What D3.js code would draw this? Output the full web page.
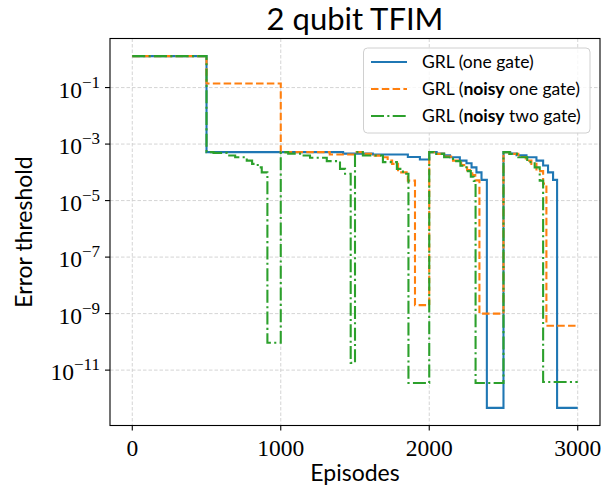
<!DOCTYPE html>
<html>
<head>
<meta charset="utf-8">
<script src="https://cdn.jsdelivr.net/npm/d3@7"></script>
<style>
  body { margin: 0; background: #fff; }
  svg { display: block; }
</style>
</head>
<body>
<script>
// Step data, [episode, error threshold]
var oneGate = [
  [0, 1.3], [500, 5.2e-4], [1420, 4.6e-4], [1620, 4.3e-4], [1856, 3.5e-4], [1937, 2.85e-4],
  [2000, 5.2e-4], [2050, 4.6e-4], [2100, 4.0e-4], [2140, 3.4e-4], [2206, 2.6e-4], [2251, 2.1e-4],
  [2285, 1.5e-4], [2318, 1.0e-4], [2352, 5.4e-5], [2388, 4.6e-13],
  [2500, 5.2e-4], [2545, 4.6e-4], [2588, 4.0e-4], [2655, 3.4e-4], [2722, 2.6e-4], [2767, 1.75e-4],
  [2800, 1.0e-4], [2834, 5.4e-5], [2861, 4.6e-13], [3000, 4.6e-13]
];
var noisyOneGate = [
  [0, 1.3], [500, 0.139], [1000, 5.2e-4], [1330, 4.3e-4],
  [1500, 5.2e-4], [1560, 4.5e-4], [1620, 3.9e-4], [1668, 3.4e-4], [1720, 2.6e-4], [1750, 2.0e-4],
  [1790, 1.0e-4], [1856, 5.1e-5], [1904, 2.0e-9],
  [2000, 5.2e-4], [2040, 4.5e-4], [2100, 3.6e-4], [2160, 2.6e-4], [2215, 1.8e-4], [2255, 1.2e-4],
  [2290, 8.0e-5], [2310, 5.2e-5], [2338, 1.0e-9],
  [2500, 5.2e-4], [2540, 4.5e-4], [2600, 3.5e-4], [2650, 2.6e-4], [2688, 2.0e-4], [2722, 1.1e-4],
  [2767, 4.0e-5], [2789, 3.7e-10], [3000, 3.7e-10]
];
var noisyTwoGate = [
  [0, 1.3], [500, 5.2e-4], [547, 4.9e-4], [637, 3.95e-4], [693, 3.4e-4], [771, 2.6e-4],
  [807, 2.0e-4], [845, 1.5e-4], [872, 1.0e-4], [910, 9.3e-11],
  [1000, 5.2e-4], [1050, 4.6e-4], [1130, 3.95e-4], [1197, 3.3e-4], [1310, 2.5e-4], [1399, 1.33e-4],
  [1433, 8.9e-5], [1471, 1.8e-11],
  [1500, 5.2e-4], [1553, 3.95e-4], [1688, 2.3e-4], [1782, 1.33e-4], [1823, 8.9e-5], [1860, 3.5e-12],
  [2000, 5.2e-4], [2030, 4.5e-4], [2100, 3.4e-4], [2160, 2.5e-4], [2210, 1.7e-4], [2250, 1.1e-4],
  [2280, 7.0e-5], [2300, 5.0e-5], [2312, 3.5e-12],
  [2500, 5.2e-4], [2540, 4.5e-4], [2600, 3.4e-4], [2660, 2.3e-4], [2710, 1.5e-4], [2744, 5.1e-5],
  [2767, 3.8e-12], [3000, 3.8e-12]
];

var seriesNames = ['one gate', 'noisy one gate', 'noisy two gate'];
var xTicks = [0, 1000, 2000, 3000];
var yTickExps = [-1, -3, -5, -7, -9, -11];

var scr = { w: 603, h: 489 };
var margins = { left: 110, right: 3, top: 38.5, bottom: 63.5 };

var svg = d3.select('body')
            .append('svg')
            .attr('width', scr.w)
            .attr('height', scr.h)
            .style('font-family', 'Lato, "Open Sans", sans-serif');

var allSeries = [oneGate, noisyOneGate, noisyTwoGate];
var xScale = d3.scaleLinear()
               .domain([-150, 3150])
               .range([margins.left, scr.w - margins.right]);

// log limits with a 5% pad in log space, like the default autoscale
var vals = d3.merge(allSeries).map(function(d){ return Math.log10(d[1]); });
var lo = d3.min(vals), hi = d3.max(vals), pad = (hi - lo) * 0.05;
var yScale = d3.scaleLog()
               .domain([Math.pow(10, lo - pad), Math.pow(10, hi + pad)])
               .range([scr.h - margins.bottom, margins.top]);

var x0 = margins.left, x1 = scr.w - margins.right;
var y0 = scr.h - margins.bottom, y1 = margins.top;

// grid
var grid = svg.append('g').attr('stroke', '#cfcfcf').attr('stroke-width', 0.9)
              .attr('stroke-dasharray', '3.5,2');
grid.selectAll('.gx').data(xTicks).enter().append('line')
    .attr('x1', function(d){ return xScale(d); }).attr('x2', function(d){ return xScale(d); })
    .attr('y1', y1).attr('y2', y0);
grid.selectAll('.gy').data(yTickExps).enter().append('line')
    .attr('y1', function(d){ return yScale(Math.pow(10, d)); }).attr('y2', function(d){ return yScale(Math.pow(10, d)); })
    .attr('x1', x0).attr('x2', x1);

// lines
var colors = ['#1f77b4', '#ff7f0e', '#2ca02c'];
var dashes = [null, '7.5,3.3', '13,3.3,2.1,3.3'];
var line = d3.line()
             .x(function(d){ return xScale(d[0]); })
             .y(function(d){ return yScale(d[1]); })
             .curve(d3.curveStepAfter);

svg.append('defs').append('clipPath').attr('id', 'clip')
   .append('rect').attr('x', x0).attr('y', y1).attr('width', x1 - x0).attr('height', y0 - y1);

svg.append('g').attr('clip-path', 'url(#clip)')
   .selectAll('path').data(allSeries).enter().append('path')
   .attr('d', line)
   .attr('fill', 'none')
   .attr('stroke', function(d, i){ return colors[i]; })
   .attr('stroke-width', 2.1)
   .attr('stroke-dasharray', function(d, i){ return dashes[i]; });

// frame
svg.append('rect').attr('x', x0).attr('y', y1).attr('width', x1 - x0).attr('height', y0 - y1)
   .attr('fill', 'none').attr('stroke', '#000').attr('stroke-width', 1.1);

// x axis
var xAxis = svg.append('g');
xAxis.selectAll('line').data(xTicks).enter().append('line')
     .attr('x1', function(d){ return xScale(d); }).attr('x2', function(d){ return xScale(d); })
     .attr('y1', y0).attr('y2', y0 + 5).attr('stroke', '#000').attr('stroke-width', 1.1);
xAxis.selectAll('text').data(xTicks).enter().append('text')
     .attr('x', function(d){ return xScale(d); })
     .attr('y', y0 + 30)
     .attr('text-anchor', 'middle')
     .style('font-family', '"Liberation Serif", serif')
     .style('font-size', '23.5px')
     .text(function(d){ return d; });

// y axis
var yAxis = svg.append('g');
yAxis.selectAll('line').data(yTickExps).enter().append('line')
     .attr('y1', function(d){ return yScale(Math.pow(10, d)); }).attr('y2', function(d){ return yScale(Math.pow(10, d)); })
     .attr('x1', x0 - 5).attr('x2', x0).attr('stroke', '#000').attr('stroke-width', 1.1);
var yLab = yAxis.selectAll('text').data(yTickExps).enter().append('text')
     .attr('x', 100)
     .attr('y', function(d){ return yScale(Math.pow(10, d)) + 10; })
     .attr('text-anchor', 'end')
     .style('font-family', '"Liberation Serif", serif')
     .style('font-size', '23.5px');
yLab.append('tspan').text('10');
yLab.append('tspan').attr('dy', -10).style('font-size', '17px')
    .text(function(d){ return '\u2212' + Math.abs(d); });

// labels
svg.append('text').attr('x', (x0 + x1) / 2).attr('y', 481)
   .attr('text-anchor', 'middle').style('font-size', '23px').text('Episodes');
svg.append('text').attr('transform', 'translate(32,' + ((y0 + y1) / 2) + ') rotate(-90)')
   .attr('text-anchor', 'middle').style('font-size', '23px').text('Error threshold');
svg.append('text').attr('x', (x0 + x1) / 2).attr('y', 29.5)
   .attr('text-anchor', 'middle').style('font-size', '31px').text('2 qubit TFIM');

// legend
var legend = svg.append('g');
legend.append('rect').attr('x', 363.5).attr('y', 48).attr('width', 226.5).attr('height', 85)
      .attr('rx', 4).attr('fill', '#fff').attr('fill-opacity', 0.8)
      .attr('stroke', '#d0d0d0').attr('stroke-width', 1);
var rows = legend.selectAll('.row').data(seriesNames).enter().append('g')
                 .attr('transform', function(d, i){ return 'translate(0,' + (62 + i * 27) + ')'; });
rows.append('line').attr('x1', 371).attr('x2', 407).attr('y1', 0).attr('y2', 0)
    .attr('stroke', function(d, i){ return colors[i]; })
    .attr('stroke-width', 2.1)
    .attr('stroke-dasharray', function(d, i){ return dashes[i]; });
var lt = rows.append('text').attr('x', 422).attr('y', 6).style('font-size', '17.5px');
lt.each(function(d){
  var t = d3.select(this);
  t.append('tspan').text('GRL (');
  if (d.indexOf('noisy') === 0) {
    t.append('tspan').style('font-weight', 'bold').text('noisy');
    t.append('tspan').text(d.slice(5) + ')');
  } else {
    t.append('tspan').text(d + ')');
  }
});
</script>
</body>
</html>
